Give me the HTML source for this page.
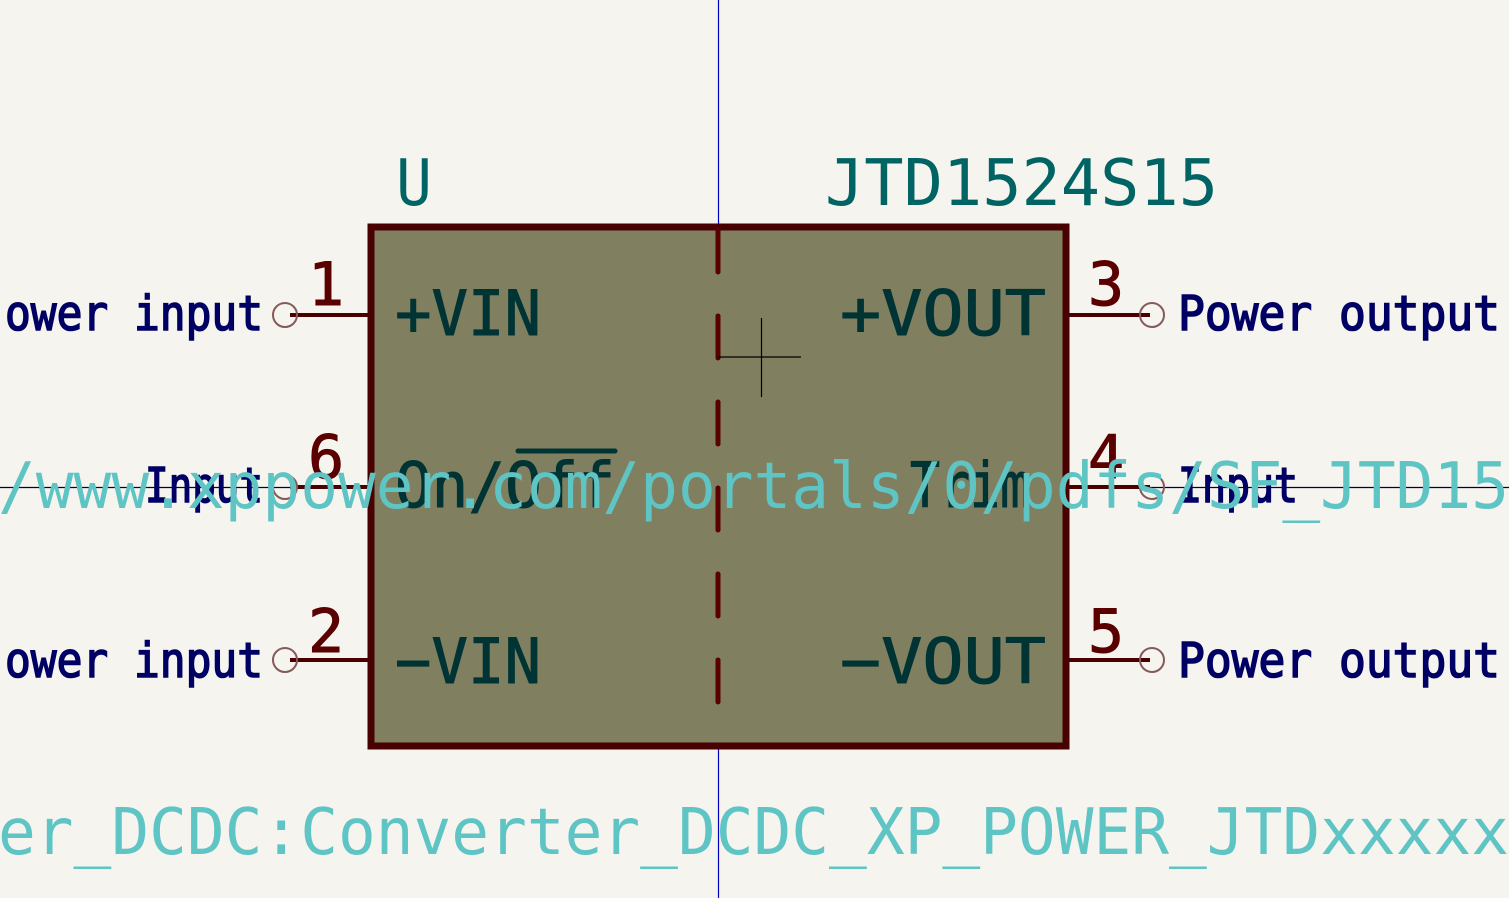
<!DOCTYPE html>
<html><head><meta charset="utf-8"><style>
html,body{margin:0;padding:0;background:#f5f4ef;}
svg{display:block}
text{font-family:"DejaVu Sans Mono","Liberation Mono",monospace;}
</style></head><body>
<svg width="1509" height="898" viewBox="0 0 1509 898" xmlns="http://www.w3.org/2000/svg">
<rect width="1509" height="898" fill="#f5f4ef"/>
<line x1="718.5" y1="0" x2="718.5" y2="898" stroke="#0000c0" stroke-width="1.2"/>
<line x1="0" y1="487.5" x2="1509" y2="487.5" stroke="#000040" stroke-width="1.2"/>
<rect x="371" y="227" width="695" height="519" fill="#807f60" stroke="#480000" stroke-width="7"/>
<line x1="718" y1="230" x2="718" y2="705" stroke="#5a0000" stroke-width="5" stroke-dasharray="42,44" stroke-linecap="round"/>
<line x1="718" y1="357" x2="801" y2="357" stroke="#000" stroke-width="1.2"/>
<line x1="761.5" y1="318" x2="761.5" y2="397" stroke="#000" stroke-width="1.2"/>
<g stroke="#480000" stroke-width="4">
<line x1="290" y1="315" x2="371" y2="315"/><line x1="290" y1="487" x2="371" y2="487"/><line x1="290" y1="660" x2="371" y2="660"/>
<line x1="1066" y1="315" x2="1150" y2="315"/><line x1="1066" y1="487" x2="1150" y2="487"/><line x1="1066" y1="660" x2="1150" y2="660"/>
</g>
<g fill="none" stroke="#845a5a" stroke-width="2">
<circle cx="285" cy="315" r="12"/><circle cx="285" cy="487" r="12"/><circle cx="285" cy="660" r="12"/>
<circle cx="1152" cy="315" r="12"/><circle cx="1152" cy="487" r="12"/><circle cx="1152" cy="660" r="12"/>
</g>
<g fill="#5a0000" stroke="#5a0000" stroke-width="1" font-size="60">
<text x="308" y="305">1</text><text x="308" y="478">6</text><text x="308" y="652">2</text>
<text x="1088" y="305">3</text><text x="1088" y="478">4</text><text x="1088" y="652">5</text>
</g>
<g fill="#003434" stroke="#003434" stroke-width="1" font-size="62">
<text x="395" y="335" textLength="146" lengthAdjust="spacingAndGlyphs">+VIN</text>
<text x="395" y="507" textLength="220" lengthAdjust="spacingAndGlyphs">On/Off</text>
<text x="395" y="683" textLength="146" lengthAdjust="spacingAndGlyphs">−VIN</text>
<text x="840" y="335" textLength="206" lengthAdjust="spacingAndGlyphs">+VOUT</text>
<text x="910" y="507" textLength="120" lengthAdjust="spacingAndGlyphs">Trim</text>
<text x="840" y="683" textLength="206" lengthAdjust="spacingAndGlyphs">−VOUT</text>
</g>
<line x1="518" y1="451" x2="615" y2="451" stroke="#003434" stroke-width="5" stroke-linecap="round"/>
<g fill="#000064" stroke="#000064" stroke-width="1.6" font-size="48">
<text x="5" y="330" textLength="258" lengthAdjust="spacingAndGlyphs">ower input</text>
<text x="145" y="502" textLength="118" lengthAdjust="spacingAndGlyphs">Input</text>
<text x="5" y="677" textLength="258" lengthAdjust="spacingAndGlyphs">ower input</text>
<text x="1178" y="330" textLength="322" lengthAdjust="spacingAndGlyphs">Power output</text>
<text x="1178" y="502" textLength="120" lengthAdjust="spacingAndGlyphs">Input</text>
<text x="1178" y="677" textLength="322" lengthAdjust="spacingAndGlyphs">Power output</text>
</g>
<g fill="#006464" font-size="64">
<text x="396" y="205" textLength="36" lengthAdjust="spacingAndGlyphs">U</text>
<text x="825" y="205" textLength="393" lengthAdjust="spacingAndGlyphs">JTD1524S15</text>
</g>
<g fill="#5fc4c4" font-size="64">
<text x="-2" y="508" textLength="1511" lengthAdjust="spacingAndGlyphs">/www.xppower.com/portals/0/pdfs/SF_JTD15</text>
<text x="-2" y="854" textLength="1511" lengthAdjust="spacingAndGlyphs">er_DCDC:Converter_DCDC_XP_POWER_JTDxxxxx</text>
</g>
</svg>
</body></html>
